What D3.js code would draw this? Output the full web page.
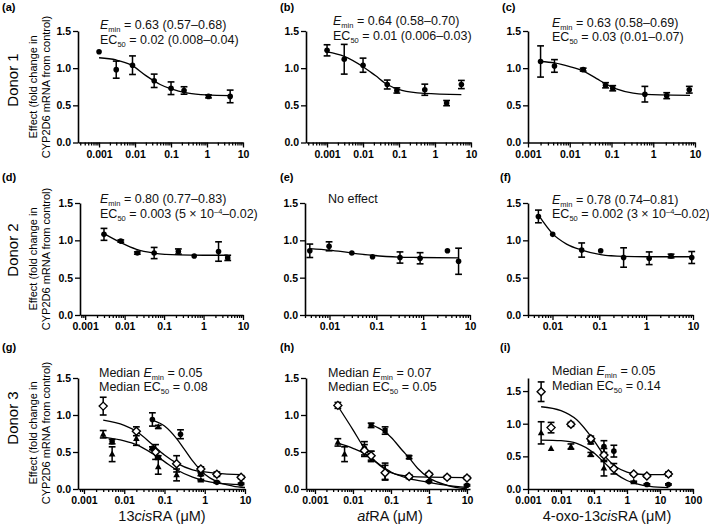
<!DOCTYPE html>
<html><head><meta charset="utf-8">
<script src="https://cdn.jsdelivr.net/npm/d3@7"></script>
<style>
body{margin:0;background:#fff}
svg{display:block;font-family:"Liberation Sans",Arial,sans-serif}
</style></head><body>
<svg id="c" width="709" height="528"></svg>
<script>
// ---------------- DATA ----------------
// Row 1 (Donor 1)
const aConc=[0.001,0.003,0.0085,0.034,0.1,0.23,1.1,4.4];
const aMean=[1.22,0.98,1.04,0.83,0.73,0.70,0.62,0.62];
const aSem =[0,0.115,0.125,0.09,0.085,0.05,0.02,0.085];
const aCurveX=[0.001,0.003,0.008,0.02,0.05,0.1,0.3,1,4.4];
const aCurveY=[1.14,1.11,1.04,0.90,0.78,0.72,0.665,0.64,0.63];

const bConc=[0.001,0.003,0.01,0.047,0.087,0.52,2.1,5.4];
const bMean=[1.24,1.12,1.04,0.78,0.70,0.71,0.53,0.78];
const bSem =[0.075,0.20,0.095,0.06,0.035,0.075,0.035,0.055];
const bCurveX=[0.001,0.003,0.01,0.022,0.047,0.12,0.5,5.4];
const bCurveY=[1.22,1.16,1.02,0.90,0.78,0.70,0.66,0.645];

const cConc=[0.002,0.0043,0.021,0.072,0.107,0.63,2.1,7.3];
const cMean=[1.09,1.03,0.98,0.77,0.73,0.65,0.63,0.71];
const cSem =[0.21,0.085,0.02,0.035,0.035,0.105,0.04,0.045];
const cCurveX=[0.002,0.0043,0.01,0.021,0.044,0.072,0.13,0.33,1.45,7.6];
const cCurveY=[1.09,1.07,1.02,0.96,0.86,0.79,0.72,0.665,0.64,0.635];

// Row 2 (Donor 2)
const dConc=[0.003,0.008,0.021,0.056,0.23,0.58,2.4,4.1];
const dMean=[1.08,0.99,0.83,0.83,0.85,0.79,0.85,0.765];
const dSem =[0.08,0.015,0.015,0.075,0.035,0,0.13,0.035];
const dCurveX=[0.003,0.008,0.02,0.056,0.23,1,4.1];
const dCurveY=[1.09,0.97,0.88,0.83,0.805,0.80,0.80];

const eConc=[0.0038,0.0098,0.03,0.083,0.32,0.86,3.3,5.7];
const eMean=[0.86,0.92,0.83,0.78,0.77,0.76,0.86,0.72];
const eSem =[0.09,0.06,0,0,0.075,0.075,0,0.175];
const eCurveX=[0.0038,0.01,0.03,0.08,0.3,0.8,5.7];
const eCurveY=[0.89,0.87,0.83,0.80,0.775,0.77,0.765];

const fConc=[0.005,0.0101,0.042,0.107,0.33,1.16,3.4,9.4];
const fMean=[1.32,1.08,0.87,0.86,0.77,0.76,0.79,0.77];
const fSem =[0.085,0,0.095,0,0.13,0.085,0.025,0.08];
const fCurveX=[0.005,0.01,0.02,0.042,0.107,0.33,1,9.4];
const fCurveY=[1.34,1.09,0.95,0.87,0.81,0.785,0.78,0.78];

// Row 3 (Donor 3) - replicate series each
const gDiaConc=[0.003,0.02,0.06,0.2,0.8,2,8];
const gDiaMean=[1.12,0.78,0.50,0.34,0.27,0.20,0.16];
const gDiaSem =[0.12,0.06,0.10,0.11,0.03,0.03,0.02];
const gDiaCurveX=[0.003,0.01,0.02,0.05,0.1,0.2,0.5,1,2,8];
const gDiaCurveY=[0.93,0.86,0.78,0.60,0.46,0.35,0.26,0.23,0.21,0.195];
const gCirConc=[0.005,0.05,0.05,0.07,0.25,0.8,2,8];
const gCirMean=[0.64,0.94,0.55,0.43,0.74,0.20,0.09,0.07];
const gCirSem =[0.03,0.09,0.02,0.02,0.06,0.02,0.01,0.01];
const gCirCurveX=[0.05,0.1,0.2,0.3,0.5,1,2,5,10];
const gCirCurveY=[0.93,0.85,0.68,0.55,0.38,0.20,0.10,0.04,0.02];
const gTriConc=[0.003,0.005,0.02,0.07,0.07,0.2,0.8];
const gTriMean=[0.74,0.47,0.68,0.84,0.30,0.19,0.12];
const gTriSem =[0.05,0.10,0.09,0.02,0.10,0.08,0.01];
const gTriCurveX=[0.003,0.01,0.02,0.05,0.1,0.2,0.5,1,2,8];
const gTriCurveY=[0.70,0.65,0.60,0.48,0.37,0.26,0.16,0.11,0.08,0.06];

const hDiaConc=[0.004,0.02,0.03,0.07,0.3,1,3,10];
const hDiaMean=[1.13,0.52,0.45,0.22,0.17,0.20,0.16,0.15];
const hDiaSem =[0.04,0.08,0.06,0.1,0.02,0.02,0.02,0.02];
const hDiaCurveX=[0.004,0.01,0.02,0.05,0.1,0.3,1,10];
const hDiaCurveY=[1.12,0.80,0.55,0.32,0.22,0.17,0.16,0.155];
const hCirConc=[0.02,0.03,0.3,1,10];
const hCirMean=[0.55,0.44,0.16,0.10,0.05];
const hCirSem =[0.09,0.07,0.02,0.01,0.01];
const hSqConc=[0.03,0.07,0.3];
const hSqMean=[0.86,0.79,0.43];
const hSqSem =[0.03,0.05,0.02];
const hSqCurveX=[0.03,0.07,0.1,0.2,0.3,0.5,1,3,10];
const hSqCurveY=[0.87,0.77,0.70,0.52,0.42,0.28,0.15,0.05,0.0];
const hTriConc=[0.004,0.006,0.07];
const hTriMean=[0.63,0.47,0.24];
const hTriSem =[0.05,0.10,0.11];
const hTriCurveX=[0.004,0.01,0.02,0.05,0.1,0.3,1,3,10];
const hTriCurveY=[0.62,0.55,0.48,0.33,0.23,0.14,0.09,0.05,0.02];

const iDiaConc=[0.0025,0.005,0.02,0.08,0.2,0.4,1.6,4,18];
const iDiaMean=[1.49,0.94,0.99,0.77,0.52,0.31,0.23,0.20,0.23];
const iDiaSem =[0.15,0.08,0.03,0.04,0.10,0.08,0.02,0.02,0.03];
const iDiaCurveX=[0.0025,0.01,0.03,0.1,0.2,0.5,1,2,5,18];
const iDiaCurveY=[1.26,1.20,1.06,0.74,0.52,0.33,0.26,0.23,0.22,0.22];
const iTriConc=[0.0025,0.005,0.02,0.08,0.2,1.6];
const iTriMean=[0.86,0.62,0.65,0.53,0.32,0.11];
const iTriSem =[0.17,0,0.04,0.03,0.12,0.01];
const iCirConc=[0.08,0.2,0.4,4,18];
const iCirMean=[0.72,0.65,0.58,0.07,0.07];
const iCirSem =[0.03,0.09,0.09,0.01,0.01];
const iLowCurveX=[0.0025,0.01,0.03,0.1,0.2,0.5,1,2,5,18];
const iLowCurveY=[0.75,0.74,0.70,0.55,0.41,0.22,0.13,0.08,0.04,0.02];

const yTicks=[0,0.5,1.0,1.5];

// ---------------- DRAW ----------------
const svg=d3.select("#c");
const S=(shape,conc,mean,sem)=>({shape,conc,mean,sem});
const C=(xs,ys)=>xs.map((x,i)=>[x,ys[i]]);

const panels=[
 {lab:"(a)",lx:2,ly:11,L:78,R:243,T:31,B:142.5,xd:[0.00026,10],yd:[0,1.5],
  series:[S("circle",aConc,aMean,aSem)],curves:[C(aCurveX,aCurveY)],
  notes:[[100,29,[{t:"E",it:1},{t:"min",sub:1},{t:" = 0.63 (0.57–0.68)"}]],[100,44,[{t:"EC"},{t:"50",sub:1},{t:" = 0.02 (0.008–0.04)"}]]]},
 {lab:"(b)",lx:280,ly:11,L:306,R:471,T:31,B:142.5,xd:[0.00026,10],yd:[0,1.5],
  series:[S("circle",bConc,bMean,bSem)],curves:[C(bCurveX,bCurveY)],
  notes:[[333,25,[{t:"E",it:1},{t:"min",sub:1},{t:" = 0.64 (0.58–0.70)"}]],[333,39.5,[{t:"EC"},{t:"50",sub:1},{t:" = 0.01 (0.006–0.03)"}]]]},
 {lab:"(c)",lx:502,ly:11,L:528,R:695,T:31,B:142.5,xd:[0.001,10],yd:[0,1.5],
  series:[S("circle",cConc,cMean,cSem)],curves:[C(cCurveX,cCurveY)],
  notes:[[552,26.5,[{t:"E",it:1},{t:"min",sub:1},{t:" = 0.63 (0.58–0.69)"}]],[552,41,[{t:"EC"},{t:"50",sub:1},{t:" = 0.03 (0.01–0.07)"}]]]},
 {lab:"(d)",lx:2,ly:181,L:80,R:243,T:203,B:315,xd:[0.00074,10],yd:[0,1.5],
  series:[S("circle",dConc,dMean,dSem)],curves:[C(dCurveX,dCurveY)],
  notes:[[100,203,[{t:"E",it:1},{t:"min",sub:1},{t:" = 0.80 (0.77–0.83)"}]],[100,218,[{t:"EC"},{t:"50",sub:1},{t:" = 0.003 (5 × 10"},{t:"–4",sup:1},{t:"–0.02)"}]]]},
 {lab:"(e)",lx:280,ly:181,L:305,R:470,T:203,B:315,xd:[0.003,10],yd:[0,1.5],
  series:[S("circle",eConc,eMean,eSem)],curves:[C(eCurveX,eCurveY)],
  notes:[[328,202.5,[{t:"No effect"}]]]},
 {lab:"(f)",lx:500,ly:181,L:528,R:693,T:203,B:315,xd:[0.003,10],yd:[0,1.5],
  series:[S("circle",fConc,fMean,fSem)],curves:[C(fCurveX,fCurveY)],
  notes:[[552,203.5,[{t:"E",it:1},{t:"min",sub:1},{t:" = 0.78 (0.74–0.81)"}]],[552,218,[{t:"EC"},{t:"50",sub:1},{t:" = 0.002 (3 × 10"},{t:"–4",sup:1},{t:"–0.02)"}]]]},
 {lab:"(g)",lx:2,ly:351,L:78,R:245,T:378,B:489,xd:[0.00071,10],yd:[0,1.5],
  series:[S("tri",gTriConc,gTriMean,gTriSem),S("circle",gCirConc,gCirMean,gCirSem),S("diamond",gDiaConc,gDiaMean,gDiaSem)],
  curves:[C(gDiaCurveX,gDiaCurveY),C(gCirCurveX,gCirCurveY),C(gTriCurveX,gTriCurveY)],
  notes:[[99,376.5,[{t:"Median "},{t:"E",it:1},{t:"min",sub:1},{t:" = 0.05"}]],[99,391,[{t:"Median EC"},{t:"50",sub:1},{t:" = 0.08"}]]],
  xt:[{t:"13"},{t:"cis",it:1},{t:"RA (μM)"}],xtx:162},
 {lab:"(h)",lx:280,ly:351,L:306,R:470,T:378,B:489,xd:[0.00058,12],yd:[0,1.5],
  series:[S("tri",hTriConc,hTriMean,hTriSem),S("circle",hCirConc,hCirMean,hCirSem),S("square",hSqConc,hSqMean,hSqSem),S("diamond",hDiaConc,hDiaMean,hDiaSem)],
  curves:[C(hDiaCurveX,hDiaCurveY),C(hSqCurveX,hSqCurveY),C(hTriCurveX,hTriCurveY)],
  notes:[[328,376.5,[{t:"Median "},{t:"E",it:1},{t:"min",sub:1},{t:" = 0.07"}]],[328,391,[{t:"Median EC"},{t:"50",sub:1},{t:" = 0.05"}]]],
  xt:[{t:"at",it:1},{t:"RA (μM)"}],xtx:390},
 {lab:"(i)",lx:500,ly:351,L:528,R:693,T:378,B:489,xd:[0.001,100],yd:[0,1.7],
  series:[S("tri",iTriConc,iTriMean,iTriSem),S("circle",iCirConc,iCirMean,iCirSem),S("diamond",iDiaConc,iDiaMean,iDiaSem)],
  curves:[C(iDiaCurveX,iDiaCurveY),C(iLowCurveX,iLowCurveY)],
  notes:[[552,375,[{t:"Median "},{t:"E",it:1},{t:"min",sub:1},{t:" = 0.05"}]],[552,389.5,[{t:"Median EC"},{t:"50",sub:1},{t:" = 0.14"}]]],
  xt:[{t:"4-oxo-13"},{t:"cis",it:1},{t:"RA (μM)"}],xtx:607}
];

function rich(g,x,y,runs,size,anchor){
  const t=g.append("text").attr("x",x).attr("y",y).style("font-size",size+"px").attr("fill","#111");
  if(anchor) t.attr("text-anchor",anchor);
  let shift=0;
  runs.forEach(r=>{
    const target=r.sub?3:(r.sup?-4.5:0);
    const ts=t.append("tspan").text(r.t).attr("dy",target-shift);
    shift=target;
    if(r.sub||r.sup) ts.style("font-size",(size*0.6)+"px");
    if(r.it) ts.style("font-style","italic");
  });
  return t;
}

function marker(g,shape,cx,cy){
  if(shape==="circle"){
    g.append("circle").attr("cx",cx).attr("cy",cy).attr("r",2.8).attr("fill","#000");
  } else if(shape==="diamond"){
    const r=4;
    g.append("path").attr("d",`M${cx},${cy-r}L${cx+r},${cy}L${cx},${cy+r}L${cx-r},${cy}Z`)
      .attr("fill","#fff").attr("stroke","#000").attr("stroke-width",1.4);
  } else if(shape==="tri"){
    g.append("path").attr("d",`M${cx},${cy-3.6}L${cx+3.3},${cy+2.4}L${cx-3.3},${cy+2.4}Z`).attr("fill","#000");
  } else if(shape==="square"){
    g.append("rect").attr("x",cx-2.6).attr("y",cy-2.6).attr("width",5.2).attr("height",5.2).attr("fill","#000");
  }
}

panels.forEach(p=>{
  const g=svg.append("g");
  const x=d3.scaleLog().domain(p.xd).range([p.L,p.R]);
  const y=d3.scaleLinear().domain(p.yd).range([p.B,p.T]);
  const lo=Math.floor(Math.log10(p.xd[0])), hi=Math.ceil(Math.log10(p.xd[1]));
  const major=[],minor=[];
  for(let e=lo;e<=hi;e++){
    for(let k=1;k<=9;k++){
      const v=Number((k*Math.pow(10,e)).toPrecision(2));
      if(v<p.xd[0]*0.999||v>p.xd[1]*1.001) continue;
      (k===1?major:minor).push(v);
    }
  }
  const fmtX=v=>String(Number(v.toPrecision(1)));
  const gxMinor=g.append("g").attr("transform",`translate(0,${p.B})`)
    .call(d3.axisBottom(x).tickValues(minor).tickFormat("").tickSize(3).tickSizeOuter(0));
  const gx=g.append("g").attr("transform",`translate(0,${p.B})`)
    .call(d3.axisBottom(x).tickValues(major).tickFormat(fmtX).tickSize(5).tickSizeOuter(0).tickPadding(3));
  const gy=g.append("g").attr("transform",`translate(${p.L},0)`)
    .call(d3.axisLeft(y).tickValues(yTicks).tickFormat(d3.format(".1f")).tickSize(5).tickSizeOuter(0).tickPadding(2));
  [gxMinor,gx,gy].forEach(a=>{
    a.select(".domain").attr("stroke","#000").attr("stroke-width",1.6);
    a.selectAll(".tick line").attr("stroke","#000").attr("stroke-width",1.3);
    a.selectAll(".tick text").attr("fill","#000").style("font-size","10.5px").style("font-weight","bold")
      .style("font-family","'Liberation Sans',Arial,sans-serif");
  });
  gxMinor.select(".domain").remove();
  const line=d3.line().x(d=>x(d[0])).y(d=>y(d[1])).curve(d3.curveMonotoneX);
  p.curves.forEach(c=>{
    g.append("path").attr("d",line(c)).attr("fill","none").attr("stroke","#000").attr("stroke-width",1.3);
  });
  p.series.forEach(s=>{
    s.conc.forEach((cv,i)=>{
      const cx=x(cv), m=s.mean[i], e=s.sem[i];
      if(e>0){
        const y1=y(m+e), y2=y(m-e);
        g.append("line").attr("x1",cx).attr("x2",cx).attr("y1",y1).attr("y2",y2).attr("stroke","#000").attr("stroke-width",1.5);
        [y1,y2].forEach(yy=>g.append("line").attr("x1",cx-3.4).attr("x2",cx+3.4).attr("y1",yy).attr("y2",yy).attr("stroke","#000").attr("stroke-width",1.6));
      }
    });
  });
  p.series.forEach(s=>{
    s.conc.forEach((cv,i)=>marker(g,s.shape,x(cv),y(s.mean[i])));
  });
  g.append("text").attr("x",p.lx).attr("y",p.ly).text(p.lab).style("font-size","11px").style("font-weight","bold");
  p.notes.forEach(n=>rich(g,n[0],n[1],n[2],12.5));
  if(p.xt) rich(g,p.xtx,521,p.xt,14.5,"middle");
});

const rowCenters=[[80,87],[250,259],[418,433]];
["Donor 1","Donor 2","Donor 3"].forEach((t,i)=>{
  svg.append("text").attr("transform",`translate(18,${rowCenters[i][0]}) rotate(-90)`).attr("text-anchor","middle")
    .style("font-size","15px").text(t);
  svg.append("text").attr("transform",`translate(37,${rowCenters[i][1]}) rotate(-90)`).attr("text-anchor","middle")
    .style("font-size","11px").text("Effect (fold change in");
  svg.append("text").attr("transform",`translate(50,${rowCenters[i][1]}) rotate(-90)`).attr("text-anchor","middle")
    .style("font-size","11px").text("CYP2D6 mRNA from control)");
});
</script></body></html>
